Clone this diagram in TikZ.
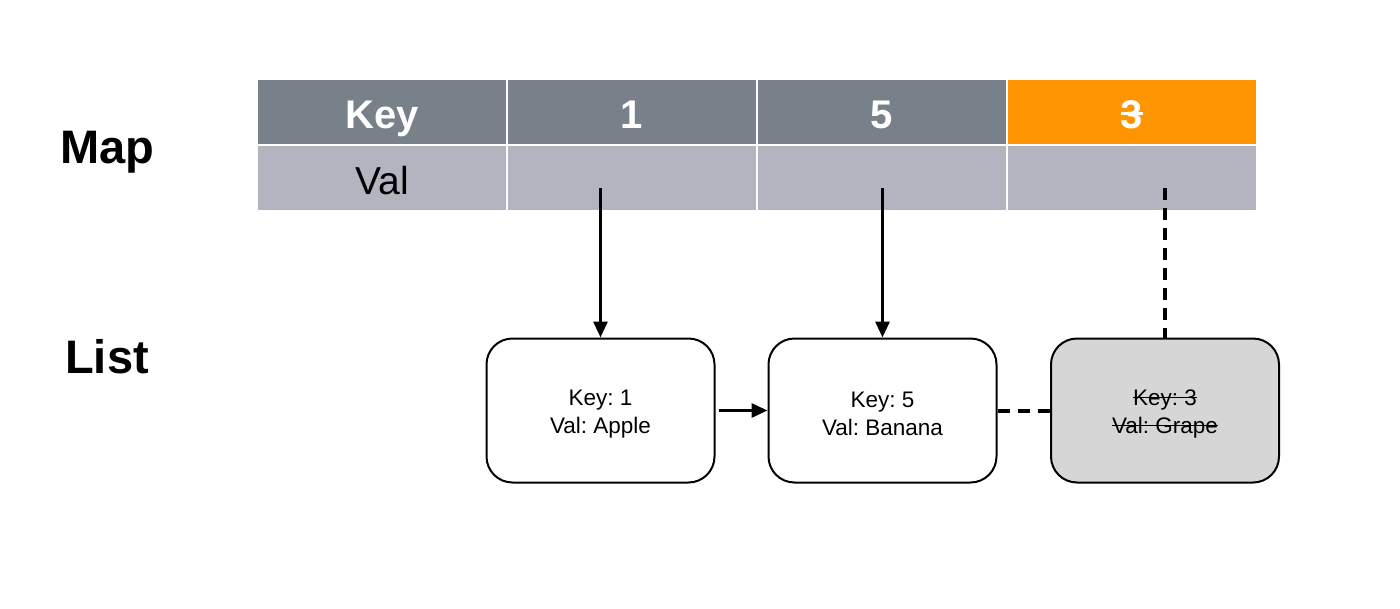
\documentclass[tikz,border=0pt]{standalone}
\usepackage{fontspec}
\setmainfont{Liberation Sans}
\usetikzlibrary{arrows.meta}
\definecolor{hdr}{HTML}{78808A}
\definecolor{valc}{HTML}{B4B4C0}
\definecolor{orng}{HTML}{FF9500}
\definecolor{grapef}{HTML}{D6D6D6}
\newcommand\stk[2][black]{\setbox0=\hbox{#2}\rlap{\copy0}{\color{#1}\rule[0.33em]{\wd0}{0.07em}}}
\frenchspacing
\begin{document}
\begin{tikzpicture}[x=1pt,y=-1pt,
  hcell/.style={rectangle, draw=white, line width=2pt, fill=hdr, minimum width=250pt, minimum height=66pt, inner sep=0pt, text height=33pt, text depth=0pt, text=white, font=\fontsize{40}{46}\selectfont\bfseries},
  vcell/.style={rectangle, draw=white, line width=2pt, fill=valc, minimum width=250pt, minimum height=66pt, inner sep=0pt, text height=33pt, text depth=0pt, text=black, font=\fontsize{39}{46}\selectfont},
  lbox/.style={rectangle, rounded corners=26pt, draw=black, line width=2pt, fill=white, minimum width=228pt, minimum height=144pt, inner sep=0pt},
  btext/.style={align=center, inner sep=0pt, font=\fontsize{22.5}{28}\selectfont},
  sidelabel/.style={font=\fontsize{47}{52}\selectfont\bfseries, inner sep=0pt},
  arr/.style={line width=3pt, -{Triangle[length=16pt,width=14pt]}},
  dashline/.style={line width=4pt, dash pattern=on 12pt off 8pt}
]
\useasboundingbox (0,0) rectangle (1400,608);
\fill[white] (0,0) rectangle (1400,608);

\node[sidelabel] (map) at (107,152) {Map};
\node[sidelabel] (list) at (107,357) {List};

\node[hcell] (k0) at (382,111.5) {Key};
\node[hcell] (k1) at (632,111.5) {1};
\node[hcell] (k2) at (882,111.5) {5};
\node[hcell, fill=orng] (k3) at (1132,111.5) {\stk[white]{3}};

\node[vcell] (v0) at (382,177.5) {Val};
\node[vcell] (v1) at (632,177.5) {};
\node[vcell] (v2) at (882,177.5) {};
\node[vcell] (v3) at (1132,177.5) {};

\node[lbox] (apple) at (600.5,410.5) {};
\node[lbox] (banana) at (882.5,410.5) {};
\node[lbox, fill=grapef] (grape) at (1165,410.5) {};
\node[btext] (appletext) at (600.5,414) {Key: 1\\Val: Apple};
\node[btext] (bananatext) at (882.5,414) {Key: 5\\Val: Banana};
\node[btext] (grapetext) at (1165,414) {\stk{Key: 3}\\\stk{Val: Grape}};

\coordinate (p1) at (600.5,188);
\coordinate (p2) at (882.5,188);
\coordinate (p3) at (1165,188);

\draw[arr] (p1) -- (apple.north);
\draw[arr] (p2) -- (banana.north);
\draw[dashline] (p3) -- (grape.north);
\draw[arr, shorten <=3pt] (apple.east) -- (banana.west);
\draw[dashline] (banana.east) -- (grape.west);
\end{tikzpicture}
\end{document}
